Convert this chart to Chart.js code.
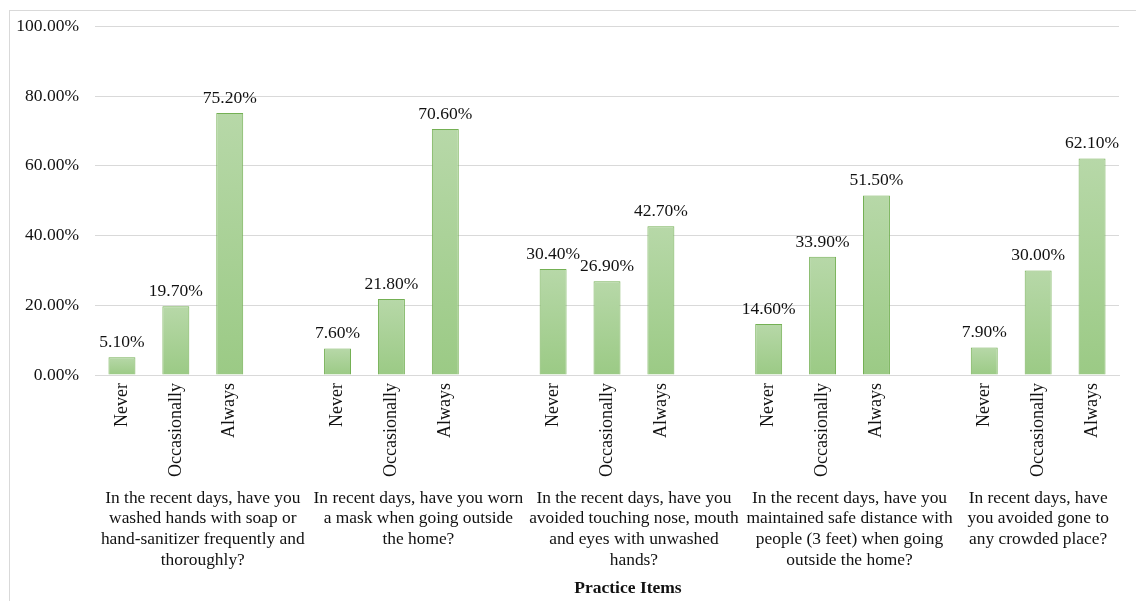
<!DOCTYPE html>
<html>
<head>
<meta charset="utf-8">
<script src="https://cdn.jsdelivr.net/npm/chart.js@4/dist/chart.umd.min.js"></script>
<style>
  html, body { margin: 0; padding: 0; background: #fff; }
  #wrap { position: relative; width: 1136px; height: 601px; }
  #frame { position: absolute; left: 9px; top: 10px; width: 1200px; height: 700px; border: 1px solid #d9d9d9; box-sizing: border-box; }
  canvas { position: absolute; left: 0; top: 0; }
</style>
</head>
<body>
<div id="wrap">
  <div id="frame"></div>
  <canvas id="chart" width="1136" height="601"></canvas>
</div>
<script>
// question groups (wrapped like the original)
const questions = [
  ["In the recent days, have you", "washed hands with soap or", "hand-sanitizer frequently and", "thoroughly?"],
  ["In recent days, have you worn", "a mask when going outside", "the home?"],
  ["In the recent days, have you", "avoided touching nose, mouth", "and eyes with unwashed", "hands?"],
  ["In the recent days, have you", "maintained safe distance with", "people (3 feet) when going", "outside the home?"],
  ["In recent days, have", "you avoided gone to", "any crowded place?"]
];
const responses = ["Never", "Occasionally", "Always"];
const neverPct = [5.1, 7.6, 30.4, 14.6, 7.9];
const occasionallyPct = [19.7, 21.8, 26.9, 33.9, 30.0];
const alwaysPct = [75.2, 70.6, 42.7, 51.5, 62.1];
const yTicks = [0, 20, 40, 60, 80, 100];
const axisTitle = "Practice Items";

// flatten into one category axis, with an empty slot between groups
const labels = [];
const values = [];
const groupStart = [];
questions.forEach((q, g) => {
  groupStart.push(labels.length);
  const vals = [neverPct[g], occasionallyPct[g], alwaysPct[g]];
  responses.forEach((r, i) => { labels.push(r); values.push(vals[i]); });
  if (g < questions.length - 1) { labels.push(""); values.push(null); }
});

const FONT = "'Liberation Serif', 'Times New Roman', serif";
Chart.defaults.font.family = FONT;
Chart.defaults.color = "#111";

function barFill(ctx) {
  const chart = ctx.chart;
  const y = chart.scales.y;
  if (!chart.chartArea || !y || ctx.raw == null) return "#a8d095";
  const top = y.getPixelForValue(ctx.raw);
  const bottom = y.getPixelForValue(0);
  const grad = chart.ctx.createLinearGradient(0, top, 0, bottom + 0.01);
  grad.addColorStop(0, "#b7d8a8");
  grad.addColorStop(1, "#9bca85");
  return grad;
}

const labelPlugin = {
  id: "labelPlugin",
  afterDatasetsDraw(chart) {
    const c = chart.ctx;
    const meta = chart.getDatasetMeta(0);
    c.save();
    c.fillStyle = "#111";
    c.font = "17.5px " + FONT;
    c.textAlign = "center";
    c.textBaseline = "bottom";
    meta.data.forEach((bar, i) => {
      const v = values[i];
      if (v == null) return;
      c.fillText(v.toFixed(2) + "%", bar.x, bar.y - 6);
    });

    // group labels under the rotated tick labels
    const x = chart.scales.x;
    const slot = x.getPixelForValue(1) - x.getPixelForValue(0);
    c.font = "17.4px " + FONT;
    c.textBaseline = "middle";
    questions.forEach((q, g) => {
      const n = g < questions.length - 1 ? 4 : 3;
      const left = x.getPixelForValue(groupStart[g]) - slot / 2;
      const cx = left + (n * slot) / 2;
      q.forEach((line, k) => c.fillText(line, cx, 498 + k * 20.7));
    });

    c.font = "bold 17.5px " + FONT;
    c.fillText(axisTitle, 628, 588);
    c.restore();
  }
};

new Chart(document.getElementById("chart"), {
  type: "bar",
  data: {
    labels: labels,
    datasets: [{
      data: values,
      backgroundColor: barFill,
      borderColor: "#74b054",
      borderWidth: 1,
      barPercentage: 0.5,
      categoryPercentage: 1.0
    }]
  },
  options: {
    responsive: false,
    animation: false,
    layout: { padding: { top: 25, right: 17, left: 0, bottom: 0 } },
    plugins: { legend: { display: false }, tooltip: { enabled: false } },
    scales: {
      x: {
        grid: { display: false, drawTicks: false },
        border: { color: "#d9d9d9" },
        ticks: {
          autoSkip: false,
          minRotation: 90,
          maxRotation: 90,
          padding: 8,
          font: { size: 18 },
          color: "#111"
        },
        afterFit(scale) { scale.height = 226; }
      },
      y: {
        min: 0,
        max: 100,
        afterBuildTicks(scale) { scale.ticks = yTicks.map(v => ({ value: v })); },
        grid: { color: "#d9d9d9", drawTicks: false },
        border: { display: false },
        ticks: {
          padding: 16,
          font: { size: 17.5 },
          color: "#111",
          callback: v => v.toFixed(2) + "%"
        },
        afterFit(scale) { scale.width = 95; }
      }
    }
  },
  plugins: [labelPlugin]
});
</script>
</body>
</html>
